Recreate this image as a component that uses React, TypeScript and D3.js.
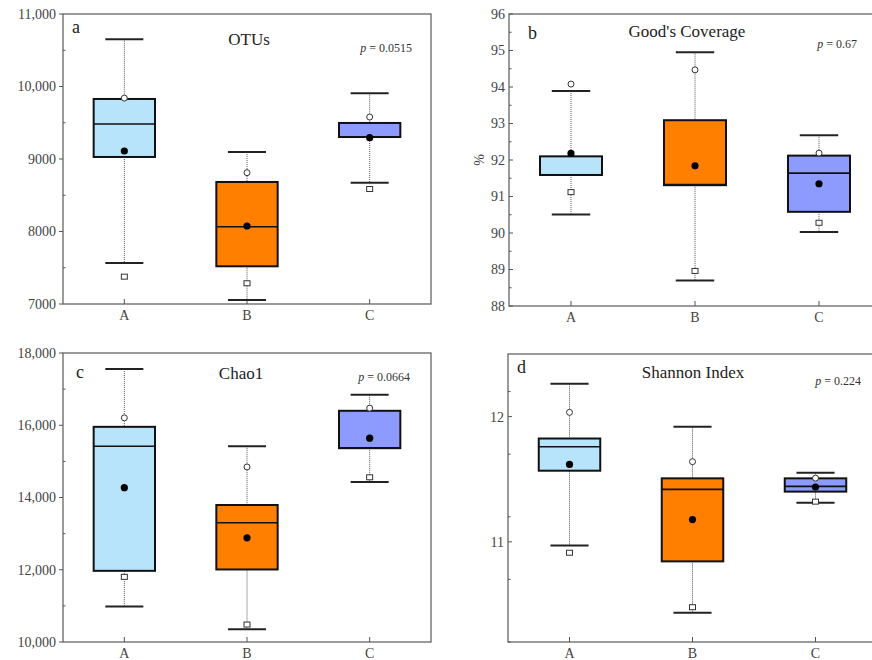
import * as d3 from 'd3'

const groups = ['A', 'B', 'C']
const groupColors = ['#b7e4fb', '#ff8000', '#8d9bff']

// each row: [lowWhisker, q1, median, q3, highWhisker, mean, lowPoint, highPoint]
const otusStats = [
  [7566, 9028, 9483, 9828, 10651, 9110, 7377, 9840],
  [7055, 7520, 8066, 8683, 9097, 8076, 7286, 8811],
  [8674, 9303, 9303, 9497, 9906, 9294, 8586, 9579],
]
const coverageStats = [
  [90.51, 91.59, 91.59, 92.1, 93.89, 92.18, 91.12, 94.08],
  [88.7, 91.31, 91.33, 93.09, 94.95, 91.84, 88.96, 94.47],
  [90.03, 90.58, 91.64, 92.12, 92.68, 91.35, 90.28, 92.19],
]
const chaoStats = [
  [10982, 11970, 15420, 15956, 17556, 14272, 11803, 16205],
  [10352, 12008, 13301, 13792, 15420, 12885, 10483, 14846],
  [14430, 15365, 15375, 16400, 16843, 15642, 14560, 16474],
]
const shannonStats = [
  [10.971, 11.568, 11.759, 11.825, 12.263, 11.618, 10.913, 12.034],
  [10.433, 10.844, 11.419, 11.507, 11.92, 11.178, 10.478, 11.64],
  [11.313, 11.401, 11.443, 11.507, 11.552, 11.438, 11.321, 11.509],
]

const otusTicks = [7000, 8000, 9000, 10000, 11000]
const otusTickLabels = ['7000', '8000', '9000', '10,000', '11,000']
const coverageTicks = [88, 89, 90, 91, 92, 93, 94, 95, 96]
const coverageTickLabels = ['88', '89', '90', '91', '92', '93', '94', '95', '96']
const chaoTicks = [10000, 12000, 14000, 16000, 18000]
const chaoTickLabels = ['10,000', '12,000', '14,000', '16,000', '18,000']
const shannonTicks = [11, 12]
const shannonTickLabels = ['11', '12']

const panels = [
  {
    letter: 'a', title: 'OTUs', p: '0.0515', stats: otusStats,
    ticks: otusTicks, tickLabels: otusTickLabels, domain: [7000, 11000], minorStep: 500,
    box: { left: 63, right: 431, top: 14, bottom: 304 }, tickOut: true,
    titlePos: [249, 45], letterPos: [72, 33], pPos: [412, 52],
  },
  {
    letter: 'b', title: "Good's Coverage", p: '0.67', stats: coverageStats,
    ticks: coverageTicks, tickLabels: coverageTickLabels, domain: [88, 96], minorStep: 0.5,
    box: { left: 509, right: 881, top: 14, bottom: 306 }, tickOut: false, yLabel: '%',
    titlePos: [687, 37], letterPos: [528, 39], pPos: [857, 48],
  },
  {
    letter: 'c', title: 'Chao1', p: '0.0664', stats: chaoStats,
    ticks: chaoTicks, tickLabels: chaoTickLabels, domain: [10000, 18000], minorStep: 1000,
    box: { left: 63, right: 431, top: 353, bottom: 642 }, tickOut: true,
    titlePos: [241, 379], letterPos: [76, 378], pPos: [410, 381],
  },
  {
    letter: 'd', title: 'Shannon Index', p: '0.224', stats: shannonStats,
    ticks: shannonTicks, tickLabels: shannonTickLabels, domain: [10.2, 12.5], minorStep: 0.5,
    box: { left: 508, right: 877, top: 354, bottom: 642 }, tickOut: false,
    titlePos: [693, 378], letterPos: [517, 373], pPos: [861, 385],
  },
]

const serif = "'Liberation Serif', 'Times New Roman', 'DejaVu Serif', serif"
const txt = { fontFamily: serif }

function Panel({ cfg }: { cfg: any }) {
  const { left, right, top, bottom } = cfg.box
  const x = d3.scalePoint().domain(groups).range([left, right]).padding(0.5)
  const y = d3.scaleLinear().domain(cfg.domain).range([bottom, top])
  const step = x.step()
  const boxW = step * 0.5
  const capW = step * 0.31
  const minor = d3.range(cfg.domain[0], cfg.domain[1] + 1e-9, cfg.minorStep)
    .filter((v: number) => !cfg.ticks.some((t: number) => Math.abs(t - v) < 1e-9))
  const dir = cfg.tickOut ? -1 : 1

  return (
    <g>
      <rect x={left} y={top} width={right - left} height={bottom - top}
        fill="none" stroke="#666" strokeWidth={1.3} />
      {cfg.ticks.map((t: number, i: number) => (
        <g key={'t' + i}>
          <line x1={left} x2={left + dir * 4} y1={y(t)} y2={y(t)} stroke="#555" strokeWidth={1} />
          <text x={left - (cfg.tickOut ? 7 : 4)} y={y(t)} dy="0.35em" textAnchor="end"
            style={txt} fontSize={14} fill="#444">{cfg.tickLabels[i]}</text>
        </g>
      ))}
      {minor.map((v: number, i: number) => (
        <line key={'m' + i} x1={left} x2={left + 2.5} y1={y(v)} y2={y(v)} stroke="#555" strokeWidth={1} />
      ))}
      {groups.map((g) => (
        <g key={'x' + g}>
          <line x1={x(g)} x2={x(g)} y1={bottom} y2={bottom - 5} stroke="#555" strokeWidth={1} />
          <text x={x(g)} y={bottom + 16} textAnchor="middle" style={txt} fontSize={14} fill="#444">{g}</text>
        </g>
      ))}
      {cfg.stats.map((s: number[], i: number) => {
        const cx = x(groups[i]) as number
        const [lo, q1, med, q3, hi, mean, pLo, pHi] = s
        return (
          <g key={'b' + i}>
            <line x1={cx} x2={cx} y1={y(hi)} y2={y(q3)} stroke="#555" strokeWidth={1} strokeDasharray="1,1" />
            <line x1={cx} x2={cx} y1={y(q1)} y2={y(lo)} stroke="#555" strokeWidth={1} strokeDasharray="1,1" />
            <line x1={cx - capW / 2} x2={cx + capW / 2} y1={y(hi)} y2={y(hi)} stroke="#222" strokeWidth={2} />
            <line x1={cx - capW / 2} x2={cx + capW / 2} y1={y(lo)} y2={y(lo)} stroke="#222" strokeWidth={2} />
            <rect x={cx - boxW / 2} y={y(q3)} width={boxW} height={y(q1) - y(q3)}
              fill={groupColors[i]} stroke="#111" strokeWidth={2} />
            <line x1={cx - boxW / 2} x2={cx + boxW / 2} y1={y(med)} y2={y(med)} stroke="#111" strokeWidth={1.6} />
            <circle cx={cx} cy={y(pHi)} r={3} fill="#fff" stroke="#333" strokeWidth={1} />
            <rect x={cx - 3} y={y(pLo) - 2.5} width={6} height={5} fill="#fff" stroke="#333" strokeWidth={1} />
            <circle cx={cx} cy={y(mean)} r={3.6} fill="#000" />
          </g>
        )
      })}
      <text x={cfg.titlePos[0]} y={cfg.titlePos[1]} textAnchor="middle" style={txt}
        fontSize={17} fill="#222">{cfg.title}</text>
      <text x={cfg.letterPos[0]} y={cfg.letterPos[1]} style={txt} fontSize={18} fill="#222">{cfg.letter}</text>
      <text x={cfg.pPos[0]} y={cfg.pPos[1]} textAnchor="end" style={txt} fontSize={12} fill="#333">
        <tspan fontStyle="italic">p</tspan> = {cfg.p}
      </text>
      {cfg.yLabel && (
        <text transform={`translate(${left - 30},${(top + bottom) / 2}) rotate(-90)`} textAnchor="middle"
          dy="0.35em" style={txt} fontSize={14} fill="#444">{cfg.yLabel}</text>
      )}
    </g>
  )
}

export default function App() {
  return (
    <svg width={872} height={660} style={{ position: 'absolute', left: 0, top: 0, background: '#fff' }}>
      {panels.map((p) => <Panel key={p.letter} cfg={p} />)}
    </svg>
  )
}
